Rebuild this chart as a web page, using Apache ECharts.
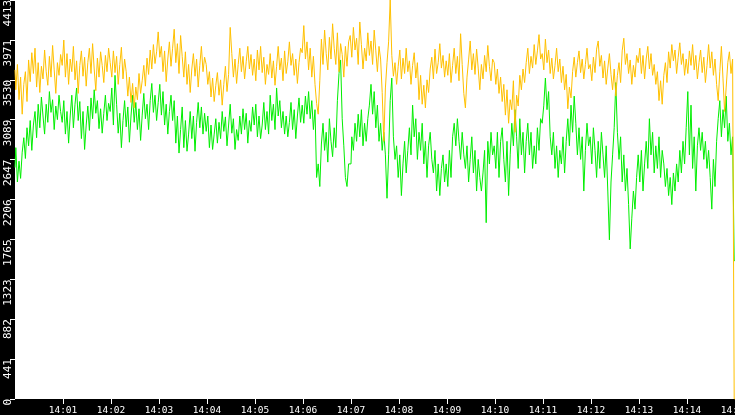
<!DOCTYPE html>
<html>
<head>
<meta charset="utf-8">
<script src="https://cdn.jsdelivr.net/npm/echarts@6/dist/echarts.min.js"></script>
<style>
html,body{margin:0;padding:0;background:#000;}
#c{width:735px;height:415px;}
</style>
</head>
<body>
<div id="c"></div>
<script>
// sampling step of the series, seconds after 14:00
const sampleSeconds = 2;
const xTickLabels = ['14:00','14:01','14:02','14:03','14:04','14:05','14:06','14:07','14:08','14:09','14:10','14:11','14:12','14:13','14:14','14:15'];
const yTickLabels = ['0','441','882','1323','1765','2206','2647','3089','3530','3971','4413'];

// orange series, one row per minute (30 samples each), final sample at 14:15
const orangeValues = [
3640,3420,3700,3310,3560,3150,3480,3620,3290,3750,3510,3830,3600,3880,3450,3720,3390,3680,3540,3860,3620,3470,3790,3560,3910,3640,3380,3720,3580,3810,
3690,3970,3560,3820,3480,3760,3620,3900,3530,3740,3380,3690,3850,3570,3780,3460,3720,3880,3600,3930,3650,3410,3770,3560,3840,3690,3500,3800,3620,3880,
3720,3560,3850,3610,3790,3480,3700,3890,3540,3760,3620,3350,3560,3280,3490,3220,3450,3310,3600,3380,3520,3690,3460,3770,3590,3860,3650,3920,3710,3840,
4060,3780,3900,3620,3850,3510,3760,3950,3680,3880,4090,3720,3930,3600,4020,3790,3560,3840,3480,3700,3390,3650,3820,3570,3760,3450,3690,3900,3620,3780,
3700,3480,3620,3340,3550,3290,3470,3610,3360,3530,3250,3480,3680,3400,3590,4110,3820,3560,3760,3490,3700,3880,3620,3790,3540,3730,3900,3650,3810,3580,
3760,3520,3860,3640,3900,3610,3780,3480,3700,3590,3820,3550,3740,3470,3680,3900,3640,3770,3520,3850,3600,3730,3950,3690,3820,3580,3760,3490,3720,3880,
3830,4130,3760,3950,3640,3880,3560,3790,3480,3270,3150,3520,3980,3700,4080,3820,3640,4000,3760,4150,3880,3700,4050,3620,3930,3810,3560,3900,3680,3950,
4020,3780,4110,3860,3990,3700,4170,3920,3650,3880,3740,4050,3800,3960,3700,4080,3850,3620,3900,3760,3390,2850,3440,3720,3950,4413,3800,3570,3720,3480,
3680,3860,3540,3770,3600,3880,3620,3740,3480,3690,3830,3550,3720,3310,3580,3260,3470,3220,3530,3390,3650,3780,3540,3870,3600,3720,3930,3660,3800,3560,
3740,3580,3820,3500,3690,3880,3600,3790,3520,4040,3700,3380,3220,3560,3750,3960,3640,3820,3590,3870,3660,3420,3700,3540,3800,3620,3910,3680,3520,3760,
3720,3480,3650,3380,3560,3290,3480,3140,3420,3050,3310,3200,3520,2950,3360,3240,3580,3420,3650,3500,3720,3880,3600,3790,3660,3920,3700,3850,4030,3760,
3820,3640,3980,3720,3860,3600,3770,3540,3690,3880,3620,3760,3500,3680,3420,3590,3210,3450,3330,3620,3780,3560,3720,3850,3610,3760,3540,3700,3880,3650,
3700,3520,3780,3610,3870,3960,3680,3800,3550,3740,3480,3660,3820,3590,3420,3650,3350,3580,3720,3500,3850,3990,3700,3820,3600,3750,3480,3690,3560,3800,
3720,3880,3600,3800,3540,3760,3900,3650,3820,3580,3700,3480,3620,3300,3520,3260,3580,3720,3500,3840,3660,3920,3740,3860,3600,3780,3940,3700,3820,3580,
3760,3600,3850,3690,3920,3640,3800,3540,3720,3860,3610,3780,3500,3690,3920,3660,3840,3580,3760,3480,3300,3620,3900,3540,3180,3450,3720,3840,3600,3760,
0
];

// green series, one row per minute (30 samples each), final sample at 14:15
const greenValues = [
2560,2780,2400,2630,2440,2730,2890,2660,3000,2800,3080,2750,3030,3180,2890,3260,3000,3340,3130,2930,3260,3060,3400,3170,3310,2980,3240,3090,3360,3180,
3060,3300,2930,3180,2830,3130,3360,3000,3260,3440,3080,3290,2880,3180,2760,3030,3240,2970,3330,3100,3420,3160,3300,2990,3210,2940,3160,3360,3080,3270,
3180,3440,3030,3580,3260,2940,3160,2780,3080,3300,3010,3230,2840,3130,3360,3060,3280,2980,3210,2860,3140,3380,3100,3260,2980,3300,3490,3170,3360,3080,
3280,3480,3140,3400,3030,3260,2930,3180,3360,3080,3300,2830,3130,2720,2980,3230,2780,3080,2740,2930,3180,2880,3130,2740,3060,3280,3000,3230,2930,3160,
2960,3130,2780,3030,2760,2930,3100,2830,3060,2880,3180,2960,3120,2800,3030,3260,2940,3100,2760,2980,2860,3130,2930,3210,2980,3160,2830,3080,2960,3230,
3030,3260,2900,3130,2880,3030,3280,2980,3180,2930,3360,3080,3260,2980,3440,3130,3300,3000,3180,2930,3130,2900,3060,3280,2980,3200,2880,3130,3330,3060,
3250,3050,3350,3150,3400,3100,3300,2980,3200,2450,2600,2350,2820,3050,2750,2950,2620,3100,2850,2680,3000,2780,3300,3600,3750,3100,2800,2450,2350,2600,
2600,2900,2750,3050,2850,3150,2900,3200,2800,3050,2850,3100,3250,3480,3150,3400,3000,3250,2850,3050,2750,2950,2700,2220,2700,3300,3550,2900,2650,2800,
2450,2700,2250,2600,2850,2500,2750,3000,2700,3250,2900,3100,2650,2950,2750,3050,2600,2850,2450,2800,2950,2650,2500,2750,2300,2600,2250,2550,2700,2400,
2600,2350,2750,2450,2900,3050,2800,3100,2850,2650,2950,2700,2550,2800,2400,2650,2900,2500,2750,2300,2650,2450,2300,2500,2750,1950,2850,2600,2950,2700,
2800,2550,2950,2450,2850,3000,2650,2400,2850,2250,2700,3050,2800,3200,2900,2550,3100,2700,2950,2500,2850,3050,2700,2950,2550,2800,2600,3000,2750,3100,
3050,3250,3550,3200,3400,2900,2700,2950,2550,2800,2450,2750,2600,2900,2500,2850,3100,2800,3250,2950,3350,3050,2700,3000,2650,2900,2300,2750,3050,2800,
2900,2600,3000,2750,2450,2850,2550,2950,2700,2450,2800,2300,1760,2400,2700,3000,3500,2950,2650,2900,2400,2700,2300,2550,2150,1660,2000,2300,2100,2450,
2700,2400,2750,2300,2600,2850,2550,3100,2700,2950,2500,2800,2550,2900,2450,2750,2600,2350,2550,2250,2450,2150,2500,2300,2600,2400,2750,2500,2850,2600,
3000,3400,2700,3250,2550,2900,2300,2800,3000,2750,2950,2650,2850,2550,2750,2450,2100,2650,2350,2850,3100,3300,2900,3200,3000,3350,2850,3050,2700,2900,
1530
];

const yStep = 441.3;
const xStep = 60;

function pairs(vals) {
  return vals.map((v, i) => [i * sampleSeconds, v]);
}

const chart = echarts.init(document.getElementById('c'), null, {renderer: 'canvas'});
chart.setOption({
  animation: false,
  backgroundColor: '#000000',
  grid: {left: 15, right: 0, top: 0, bottom: 16, show: true, backgroundColor: '#ffffff', borderWidth: 0,
         containLabel: false, outerBoundsMode: 'none'},
  xAxis: {
    type: 'value', min: 0, max: 900, interval: xStep,
    axisLine: {show: false},
    axisTick: {show: true, length: 5, lineStyle: {color: '#ffffff', width: 1}},
    splitLine: {show: false},
    axisLabel: {
      color: '#ffffff', fontFamily: 'DejaVu Sans Mono', fontSize: 9.5, margin: 7,
      showMinLabel: false, showMaxLabel: true, hideOverlap: false,
      formatter: v => xTickLabels[Math.round(v / xStep)] || ''
    }
  },
  yAxis: {
    type: 'value', min: 0, max: 4413, interval: yStep,
    axisLine: {show: false},
    axisTick: {show: true, length: 5, lineStyle: {color: '#ffffff', width: 1}},
    splitLine: {show: false},
    axisLabel: {
      color: '#ffffff', fontFamily: 'DejaVu Sans Mono', fontSize: 11, margin: 1,
      rotate: 90, align: 'right',
      formatter: v => yTickLabels[Math.round(v / yStep)] || ''
    }
  },
  series: [
    {
      name: 'green', type: 'line', step: 'middle', data: pairs(greenValues), showSymbol: false, symbol: 'none',
      lineStyle: {color: '#00ee00', width: 1}, itemStyle: {color: '#00ee00'},
      progressive: 0, silent: true, z: 2
    },
    {
      name: 'orange', type: 'line', step: 'middle', data: pairs(orangeValues), showSymbol: false, symbol: 'none',
      lineStyle: {color: '#ffc000', width: 1}, itemStyle: {color: '#ffc000'},
      progressive: 0, silent: true, z: 3
    }
  ]
});
</script>
</body>
</html>
